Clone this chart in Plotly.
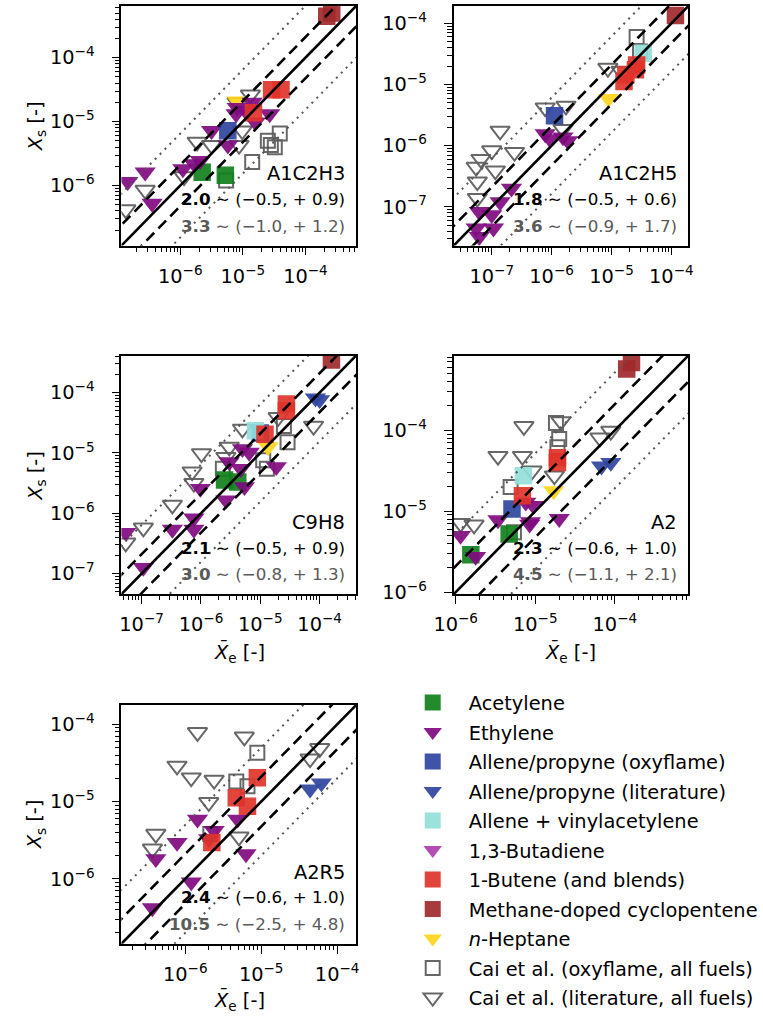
import plotly.graph_objects as go

# ---------------- categories / styles ----------------
CAT_KEYS = ["acet", "eth", "apo", "apl", "av", "buta", "bute", "mcp", "hep", "caio", "cail"]
CAT_NAMES = ["Acetylene", "Ethylene", "Allene/propyne (oxyflame)", "Allene/propyne (literature)",
             "Allene + vinylacetylene", "1,3-Butadiene", "1-Butene (and blends)",
             "Methane-doped cyclopentene", "<i>n</i>-Heptane",
             "Cai et al. (oxyflame, all fuels)", "Cai et al. (literature, all fuels)"]
CAT_COLORS = ["#11801c", "#800a80", "#2f44a0", "#2f44a0", "#92e0da", "#b24db3",
              "#e0332a", "#a0292b", "#ffd51c", "#5f5f5f", "#5f5f5f"]
CAT_SYMBOLS = ["square", "triangle-down", "square", "triangle-down", "square", "triangle-down",
               "square", "square", "triangle-down", "square-open", "triangle-down-open"]
DRAW_ORDER = ["caio", "cail", "hep", "acet", "eth", "apo", "apl", "av", "buta", "bute", "mcp"]

# ---------------- panel texts ----------------
PANEL_NAMES = ["A1C2H3", "A1C2H5", "C9H8", "A2", "A2R5"]
BOLD_FACTOR = ["2.0", "1.8", "2.1", "2.3", "2.4"]
BOLD_RANGE = ["(−0.5, + 0.9)", "(−0.5, + 0.6)", "(−0.5, + 0.9)", "(−0.6, + 1.0)", "(−0.6, + 1.0)"]
GRAY_FACTOR = ["3.3", "3.6", "3.0", "4.5", "10.5"]
GRAY_RANGE = ["(−1.0, + 1.2)", "(−0.9, + 1.7)", "(−0.8, + 1.3)", "(−1.1, + 2.1)", "(−2.5, + 4.8)"]
DASH_FACTOR = [2.1, 2.1, 2.1, 2.1, 2.1]
DOT_FACTOR = [6.5, 6.1, 6.4, 5.2, 5.0]
AX_LOG_RANGE = [(-6.94, -3.19), (-7.635, -3.715), (-7.34, -3.385), (-6.025, -3.075), (-6.84, -3.75)]

# ---------------- data: A1C2H3 ----------------
P1_ACET_X = [2.24e-6, 5.25e-6]
P1_ACET_Y = [1.62e-6, 1.45e-6]
P1_ETH_X = [8.1e-6, 1.10e-5, 1.41e-5, 7.8e-6, 2.69e-5, 1.58e-5, 3.16e-6, 5.75e-6, 2.09e-6, 1.66e-6, 1.10e-6, 1.45e-7, 2.75e-7, 3.55e-7]
P1_ETH_Y = [1.66e-5, 1.48e-5, 2.0e-5, 1.32e-5, 1.32e-5, 9.8e-6, 7.2e-6, 4.27e-6, 2.45e-6, 2.19e-6, 1.82e-6, 1.15e-6, 1.62e-6, 5.25e-7]
P1_APO_X = [5.75e-6]
P1_APO_Y = [7.2e-6]
P1_BUTE_X = [2.88e-5, 4.07e-5, 1.48e-5]
P1_BUTE_Y = [3.16e-5, 3.16e-5, 1.38e-5]
P1_MCP_X = [2.19e-4, 2.63e-4]
P1_MCP_Y = [4.47e-4, 5.0e-4]
P1_HEP_X = [8.1e-6]
P1_HEP_Y = [2.09e-5]
P1_CAIO_X = [1.41e-5, 2.51e-5, 3.24e-5, 3.89e-5, 2.8e-5, 5.4e-6]
P1_CAIO_Y = [2.34e-6, 5.0e-6, 3.98e-6, 6.5e-6, 4.3e-6, 1.2e-6]
P1_CAIL_X = [1.32e-5, 8.1e-6, 1.86e-6, 3.16e-6, 9.8e-6, 8.7e-6, 1.15e-6, 2.75e-7, 1.35e-7]
P1_CAIL_Y = [2.63e-5, 2.0e-5, 4.8e-6, 4.27e-6, 7.2e-6, 4.27e-6, 1.38e-6, 8.5e-7, 4.2e-7]

# ---------------- data: A1C2H5 ----------------
P2_ETH_X = [7.8e-7, 9.3e-7, 1.55e-6, 1.86e-6, 2.14e-7, 1.38e-7, 6.2e-8, 1.0e-7, 5.5e-8, 1.07e-7, 6.2e-8]
P2_ETH_Y = [1.55e-6, 1.29e-6, 1.38e-6, 1.2e-6, 2.0e-7, 1.2e-7, 8.3e-8, 7.4e-8, 4.47e-8, 4.47e-8, 3.24e-8]
P2_APO_X = [1.12e-6]
P2_APO_Y = [3.09e-6]
P2_AV_X = [3.39e-5]
P2_AV_Y = [3.24e-5]
P2_BUTE_X = [2.63e-5, 1.74e-5, 1.62e-5, 2.51e-5]
P2_BUTE_Y = [2.09e-5, 1.45e-5, 1.12e-5, 1.74e-5]
P2_MCP_X = [1.17e-4]
P2_MCP_Y = [1.35e-4]
P2_HEP_X = [8.9e-6]
P2_HEP_Y = [5.9e-6]
P2_CAIO_X = [2.63e-5, 3.0e-5]
P2_CAIO_Y = [6.0e-5, 3.47e-5]
P2_CAIL_X = [8.7e-6, 1.45e-5, 7.8e-7, 1.74e-6, 1.55e-6, 1.38e-7, 1.0e-7, 2.4e-7, 6.6e-8, 5.5e-8, 1.15e-7, 5.75e-8, 5.75e-8]
P2_CAIL_Y = [1.86e-5, 1.66e-5, 4.17e-6, 4.47e-6, 1.86e-6, 1.74e-6, 8.3e-7, 7.8e-7, 6.0e-7, 4.47e-7, 3.9e-7, 2.57e-7, 1.38e-7]

# ---------------- data: C9H8 ----------------
P3_ACET_X = [2.5e-6, 4.17e-6]
P3_ACET_Y = [3.55e-6, 3.3e-6]
P3_ETH_X = [5.0e-6, 6.5e-6, 3.0e-6, 4.7e-6, 1.86e-5, 5.4e-6, 9.8e-7, 2.63e-6, 7.6e-7, 7.6e-7, 3.3e-7, 5.4e-8, 1.07e-7]
P3_ETH_Y = [1.17e-5, 1.02e-5, 7.1e-6, 5.5e-6, 5.9e-6, 2.75e-6, 2.57e-6, 1.66e-6, 8.3e-7, 5.4e-7, 5.4e-7, 4.8e-7, 1.26e-7]
P3_APO_X = [1.0e-5]
P3_APO_Y = [2.14e-5]
P3_APL_X = [8.5e-5, 1.0e-4]
P3_APL_Y = [8.1e-5, 7.6e-5]
P3_AV_X = [8.3e-6]
P3_AV_Y = [2.34e-5]
P3_BUTE_X = [2.75e-5, 2.75e-5, 1.2e-5]
P3_BUTE_Y = [6.5e-5, 5.0e-5, 2.04e-5]
P3_MCP_X = [1.58e-4]
P3_MCP_Y = [3.47e-4]
P3_HEP_X = [1.35e-5]
P3_HEP_Y = [1.26e-5]
P3_CAIO_X = [2.88e-5, 2.5e-5, 2.34e-6, 1.12e-5, 1.29e-5]
P3_CAIO_Y = [1.51e-5, 2.8e-5, 5.5e-6, 7.6e-6, 5.5e-6]
P3_CAIL_X = [2.0e-5, 7.9e-5, 5.0e-6, 3.0e-6, 1.02e-6, 7.1e-7, 7.6e-7, 3.3e-7, 1.07e-7, 5.4e-8, 2.63e-6]
P3_CAIL_Y = [3.9e-5, 2.8e-5, 2.5e-5, 1.26e-5, 9.8e-6, 4.9e-6, 3.16e-6, 1.38e-6, 5.75e-7, 3.24e-7, 8.5e-6]

# ---------------- data: A2 ----------------
P4_ACET_X = [4.7e-6, 1.55e-6]
P4_ACET_Y = [5.25e-6, 2.9e-6]
P4_ETH_X = [7.6e-6, 9.5e-6, 3.4e-6, 8.7e-6, 8.5e-6, 2.0e-5, 1.15e-6, 1.78e-6]
P4_ETH_Y = [1.29e-5, 1.17e-5, 7.8e-6, 7.4e-6, 6.9e-6, 8.1e-6, 5.0e-6, 2.75e-6]
P4_APO_X = [5.1e-6]
P4_APO_Y = [1.07e-5]
P4_APL_X = [6.8e-5, 8.9e-5]
P4_APL_Y = [3.6e-5, 4.0e-5]
P4_AV_X = [7.1e-6]
P4_AV_Y = [2.75e-5]
P4_BUTE_X = [1.9e-5, 1.9e-5, 6.9e-6]
P4_BUTE_Y = [4.6e-5, 4.0e-5, 1.55e-5]
P4_MCP_X = [1.62e-4, 1.41e-4]
P4_MCP_Y = [6.9e-4, 5.75e-4]
P4_HEP_X = [1.7e-5]
P4_HEP_Y = [1.78e-5]
P4_CAIO_X = [1.82e-5, 2.0e-5, 1.9e-5, 4.9e-6, 5.4e-6]
P4_CAIO_Y = [1.23e-4, 7.8e-5, 6.2e-5, 2.0e-5, 5.5e-6]
P4_CAIL_X = [2.1e-5, 7.2e-6, 3.4e-6, 6.9e-6, 9.1e-6, 1.74e-5, 6.5e-5, 8.9e-5, 1.15e-6, 1.7e-6]
P4_CAIL_Y = [1.29e-4, 1.12e-4, 4.8e-5, 4.8e-5, 3.16e-5, 2.75e-5, 8.1e-5, 9.8e-5, 7.1e-6, 6.8e-6]

# ---------------- data: A2R5 ----------------
P5_ETH_X = [1.45e-6, 4.9e-6, 2.4e-6, 2.04e-6, 7.8e-7, 4.1e-7, 6.3e-6, 1.2e-6, 3.7e-7]
P5_ETH_Y = [5.9e-6, 5.9e-6, 4.2e-6, 3.3e-6, 2.95e-6, 1.82e-6, 2.1e-6, 9.1e-7, 4.2e-7]
P5_APL_X = [4.4e-5, 6.2e-5]
P5_APL_Y = [1.45e-5, 1.74e-5]
P5_BUTE_X = [8.9e-6, 4.7e-6, 6.6e-6, 2.24e-6]
P5_BUTE_Y = [2.04e-5, 1.12e-5, 8.7e-6, 2.95e-6]
P5_CAIO_X = [8.9e-6, 4.7e-6, 6.6e-6, 2.14e-6]
P5_CAIO_Y = [4.3e-5, 1.82e-5, 1.58e-5, 3.8e-6]
P5_CAIL_X = [1.45e-6, 6.0e-6, 7.8e-7, 1.2e-6, 2.4e-6, 2.04e-6, 4.4e-5, 5.9e-5, 4.1e-7, 3.7e-7, 5.1e-6]
P5_CAIL_Y = [7.9e-5, 6.9e-5, 2.9e-5, 2.04e-5, 1.9e-5, 9.8e-6, 3.6e-5, 4.9e-5, 3.8e-6, 2.45e-6, 3.5e-6]

PANEL_DATA = [
    {"acet": (P1_ACET_X, P1_ACET_Y), "eth": (P1_ETH_X, P1_ETH_Y), "apo": (P1_APO_X, P1_APO_Y),
     "bute": (P1_BUTE_X, P1_BUTE_Y), "mcp": (P1_MCP_X, P1_MCP_Y), "hep": (P1_HEP_X, P1_HEP_Y),
     "caio": (P1_CAIO_X, P1_CAIO_Y), "cail": (P1_CAIL_X, P1_CAIL_Y)},
    {"eth": (P2_ETH_X, P2_ETH_Y), "apo": (P2_APO_X, P2_APO_Y), "av": (P2_AV_X, P2_AV_Y),
     "bute": (P2_BUTE_X, P2_BUTE_Y), "mcp": (P2_MCP_X, P2_MCP_Y), "hep": (P2_HEP_X, P2_HEP_Y),
     "caio": (P2_CAIO_X, P2_CAIO_Y), "cail": (P2_CAIL_X, P2_CAIL_Y)},
    {"acet": (P3_ACET_X, P3_ACET_Y), "eth": (P3_ETH_X, P3_ETH_Y), "apo": (P3_APO_X, P3_APO_Y),
     "apl": (P3_APL_X, P3_APL_Y), "av": (P3_AV_X, P3_AV_Y), "bute": (P3_BUTE_X, P3_BUTE_Y),
     "mcp": (P3_MCP_X, P3_MCP_Y), "hep": (P3_HEP_X, P3_HEP_Y),
     "caio": (P3_CAIO_X, P3_CAIO_Y), "cail": (P3_CAIL_X, P3_CAIL_Y)},
    {"acet": (P4_ACET_X, P4_ACET_Y), "eth": (P4_ETH_X, P4_ETH_Y), "apo": (P4_APO_X, P4_APO_Y),
     "apl": (P4_APL_X, P4_APL_Y), "av": (P4_AV_X, P4_AV_Y), "bute": (P4_BUTE_X, P4_BUTE_Y),
     "mcp": (P4_MCP_X, P4_MCP_Y), "hep": (P4_HEP_X, P4_HEP_Y),
     "caio": (P4_CAIO_X, P4_CAIO_Y), "cail": (P4_CAIL_X, P4_CAIL_Y)},
    {"eth": (P5_ETH_X, P5_ETH_Y), "apl": (P5_APL_X, P5_APL_Y), "bute": (P5_BUTE_X, P5_BUTE_Y),
     "caio": (P5_CAIO_X, P5_CAIO_Y), "cail": (P5_CAIL_X, P5_CAIL_Y)},
]

# ---------------- layout geometry (pixels of the 763x1031 page) ----------------
W, H = 763, 1031
PANEL_BOX = [(105, 348, 6, 248), (449, 692, 6, 248), (105, 348, 359, 600),
             (449, 692, 359, 600), (105, 348, 712, 953)]

FONT = "DejaVu Sans"
fig = go.Figure()
shown = set()

for p in range(5):
    ax = "" if p == 0 else str(p + 1)
    xref, yref = "x" + ax, "y" + ax
    data = PANEL_DATA[p]
    for key in DRAW_ORDER:
        if key not in data:
            continue
        i = CAT_KEYS.index(key)
        xs, ys = data[key]
        open_sym = key in ("caio", "cail")
        is_tri = "triangle" in CAT_SYMBOLS[i]
        if is_tri:
            size = 17 if open_sym else 18.5
        else:
            size = 14 if open_sym else 17.5
        marker = dict(symbol=CAT_SYMBOLS[i], color=CAT_COLORS[i], size=size,
                      opacity=0.92 if not open_sym else 0.95,
                      line=dict(width=2 if open_sym else 0, color=CAT_COLORS[i]))
        fig.add_trace(go.Scatter(x=xs, y=ys, mode="markers", marker=marker, name=CAT_NAMES[i],
                                 legendgroup=key, legendrank=i + 1, showlegend=key not in shown,
                                 xaxis=xref, yaxis=yref, hoverinfo="skip"))
        shown.add(key)
    lo, hi = AX_LOG_RANGE[p]
    lx = [10 ** (lo - 1.5), 10 ** (hi + 1.5)]
    for f, dash, col, wdt in [(DOT_FACTOR[p], "2px,5px", "#555555", 2),
                              (DASH_FACTOR[p], "11px,6px", "black", 2.6)]:
        for g in (f, 1.0 / f):
            fig.add_trace(go.Scatter(x=lx, y=[v * g for v in lx], mode="lines",
                                     line=dict(color=col, width=wdt, dash=dash),
                                     showlegend=False, xaxis=xref, yaxis=yref, hoverinfo="skip"))
    fig.add_trace(go.Scatter(x=lx, y=lx, mode="lines", line=dict(color="black", width=2.6),
                             showlegend=False, xaxis=xref, yaxis=yref, hoverinfo="skip"))

# legend-only entries for categories with no visible points
for key in CAT_KEYS:
    if key not in shown:
        i = CAT_KEYS.index(key)
        fig.add_trace(go.Scatter(x=[None], y=[None], mode="markers", name=CAT_NAMES[i],
                                 marker=dict(symbol=CAT_SYMBOLS[i], color=CAT_COLORS[i], size=16),
                                 legendgroup=key, legendrank=i + 1, showlegend=True,
                                 xaxis="x", yaxis="y"))

layout = dict(width=W, height=H, margin=dict(l=0, r=0, t=0, b=0),
              paper_bgcolor="white", plot_bgcolor="white",
              font=dict(family=FONT, color="black"),
              legend=dict(x=390 / W, xanchor="left", y=1 - 690 / H, yanchor="top",
                          font=dict(family=FONT, size=19.4, color="black"),
                          tracegroupgap=1.3, bgcolor="rgba(0,0,0,0)", borderwidth=0,
                          itemwidth=62),
              showlegend=True)

annotations = []
for p in range(5):
    ax = "" if p == 0 else str(p + 1)
    x0, x1, y0, y1 = PANEL_BOX[p]
    lo, hi = AX_LOG_RANGE[p]
    common = dict(type="log", range=[lo, hi], showline=True, linecolor="black", linewidth=1.6,
                  mirror=True, ticks="outside", ticklen=8, tickwidth=1.3, tickcolor="black",
                  showgrid=False, zeroline=False, tick0=0, dtick=1, exponentformat="power",
                  tickfont=dict(family=FONT, size=15.5, color="black"),
                  minor=dict(ticks="outside", ticklen=4.5, tickwidth=1, tickcolor="black",
                             showgrid=False, dtick="D1"))
    layout["xaxis" + ax] = dict(common, domain=[x0 / W, x1 / W], anchor="y" + ax,
                                ticklabelstandoff=5)
    layout["yaxis" + ax] = dict(common, domain=[1 - y1 / H, 1 - y0 / H], anchor="x" + ax,
                                ticklabelstandoff=14)
    xd, yd = "x" + ax + " domain", "y" + ax + " domain"
    annotations.append(dict(xref=xd, yref=yd, x=0.96, y=0.30, xanchor="right", yanchor="middle",
                            text=PANEL_NAMES[p], showarrow=False,
                            font=dict(family=FONT, size=19.4, color="black")))
    annotations.append(dict(xref=xd, yref=yd, x=0.96, y=0.195, xanchor="right", yanchor="middle",
                            text="<b>" + BOLD_FACTOR[p] + "</b> ∼ " + BOLD_RANGE[p], showarrow=False,
                            font=dict(family=FONT, size=16.7, color="black")))
    annotations.append(dict(xref=xd, yref=yd, x=0.96, y=0.083, xanchor="right", yanchor="middle",
                            text="<b>" + GRAY_FACTOR[p] + "</b> ∼ " + GRAY_RANGE[p], showarrow=False,
                            font=dict(family=FONT, size=16.7, color="#5a5a5a")))

# axis titles
YLAB = "<i>X</i><sub>s</sub> [-]"
XLAB = "<i>X̄</i><sub>e</sub> [-]"
for (cx, cy) in [(17, 127), (17, 480), (17, 832)]:
    annotations.append(dict(xref="paper", yref="paper", x=cx / W, y=1 - cy / H, text=YLAB,
                            textangle=-90, showarrow=False, xanchor="center", yanchor="middle",
                            font=dict(family=FONT, size=19.4, color="black")))
for (cx, cy) in [(227, 659), (570, 659), (227, 1010)]:
    annotations.append(dict(xref="paper", yref="paper", x=cx / W, y=1 - cy / H, text=XLAB,
                            showarrow=False, xanchor="center", yanchor="middle",
                            font=dict(family=FONT, size=19.4, color="black")))
layout["annotations"] = annotations
fig.update_layout(**layout)
fig.write_html("out.html")
